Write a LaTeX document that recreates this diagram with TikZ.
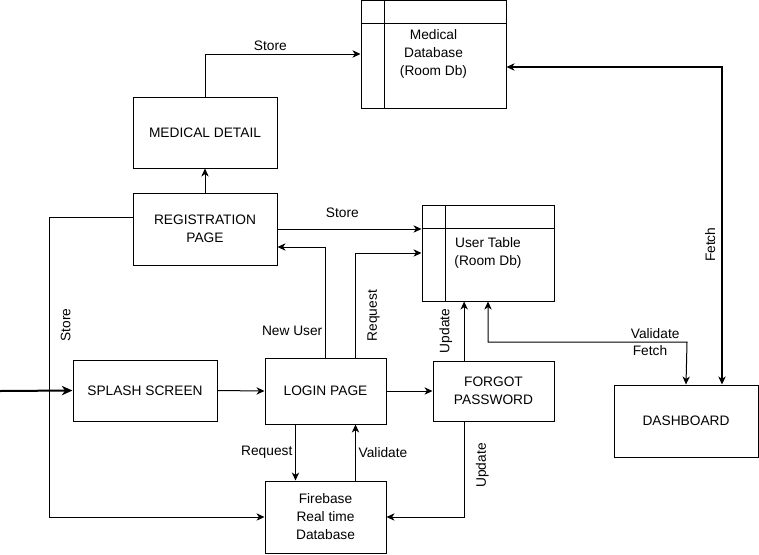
\documentclass[tikz,border=0pt]{standalone}
\usepackage{fontspec}
\setmainfont{Liberation Sans}
\usetikzlibrary{arrows.meta}

\tikzset{
  box/.style={draw, rectangle, inner sep=0pt, align=center, font=\fontsize{10.3}{13.5}\selectfont},
  lbl/.style={inner sep=2pt, font=\fontsize{10.3}{12}\selectfont},
  rlbl/.style={lbl, rotate=90, inner ysep=8.5pt},
}

\begin{document}
\begin{tikzpicture}[x=0.75pt,y=-0.75pt,->,>={Stealth[length=6pt,width=5.5pt,inset=1.8pt]},line width=0.75pt]
\useasboundingbox (0,0) rectangle (759,554);

\node[box, minimum width=108.75pt, minimum height=81pt] (mdb) at (433.5,54) {Medical\\Database\\(Room Db)};
\node[box, minimum width=108pt, minimum height=53.25pt] (mdet) at (205,132.5) {MEDICAL DETAIL};
\node[box, minimum width=108pt, minimum height=54pt] (reg) at (205,229) {REGISTRATION\\PAGE};
\node[box, minimum width=99pt, minimum height=72pt] (ut) at (488,253) {User Table\\(Room Db)};
\node[box, minimum width=108pt, minimum height=45.75pt] (splash) at (145,390.5) {SPLASH SCREEN};
\node[box, minimum width=90.75pt, minimum height=49.5pt] (login) at (325.5,391) {LOGIN PAGE};
\node[box, minimum width=90.75pt, minimum height=45pt] (forgot) at (493.5,391) {FORGOT\\PASSWORD};
\node[box, minimum width=90.75pt, minimum height=54pt] (fire) at (325.5,517) {Firebase\\Real time\\Database};
\node[box, minimum width=108pt, minimum height=54pt] (dash) at (686,421) {DASHBOARD};

% table headers
\foreach \t in {mdb,ut}{
  \draw[-] ([xshift=18pt]\t.north west) -- ([xshift=18pt]\t.south west);
  \draw[-] ([yshift=-18pt]\t.north west) -- ([yshift=-18pt]\t.north east);
}

\coordinate (start) at (0,391);
\coordinate (storeL) at (49,217);
\coordinate (vfbend) at (687,342);

\draw[line width=1.5pt, >={Stealth[length=8pt,width=7pt,inset=2.4pt]}] (start) -- (splash.west);
\draw (splash.east) -- (login.west);
\draw (login.east) -- (forgot.west);
\draw (reg.north) -- (mdet.south);
\draw (mdet.north) |- node[lbl,pos=0.71,above]{Store} (mdb.west);
\draw (reg.east) -- node[lbl,pos=0.45,above=6pt]{Store} (reg.east -| ut.west);
\draw (login.north) |- node[lbl,pos=0.12,left]{New User} ([yshift=-13.5pt]reg.east);
\draw ([xshift=22.5pt]login.north) |- node[rlbl,pos=0.2,anchor=north]{Request} (ut.west);
\draw ([yshift=9pt]reg.west) -- (storeL) |- node[rlbl,pos=0.18,anchor=north]{Store} (fire.west);
\draw ([xshift=-22.5pt]login.south) -- node[lbl,left]{Request} ([xshift=-22.5pt]fire.north);
\draw ([xshift=22.5pt]fire.north) -- node[lbl,right]{Validate} ([xshift=22.5pt]login.south);
\draw ([xshift=-22pt]forgot.north) -- node[rlbl,anchor=south]{Update} ([xshift=-22pt]forgot.north |- ut.south);
\draw ([xshift=-22pt]forgot.south) |- node[rlbl,pos=0.23,anchor=north]{Update} (fire.east);
\draw[<->] (ut.south) |- node[lbl,pos=0.92,above]{Validate} node[lbl,pos=0.907,below]{Fetch} (vfbend) -- (dash.north);
\draw[<->, line width=1.2pt] ([yshift=-9.75pt]mdb.east) -| node[rlbl,pos=0.78,anchor=south,inner ysep=4.5pt]{Fetch} ([xshift=27pt]dash.north);
\end{tikzpicture}
\end{document}
